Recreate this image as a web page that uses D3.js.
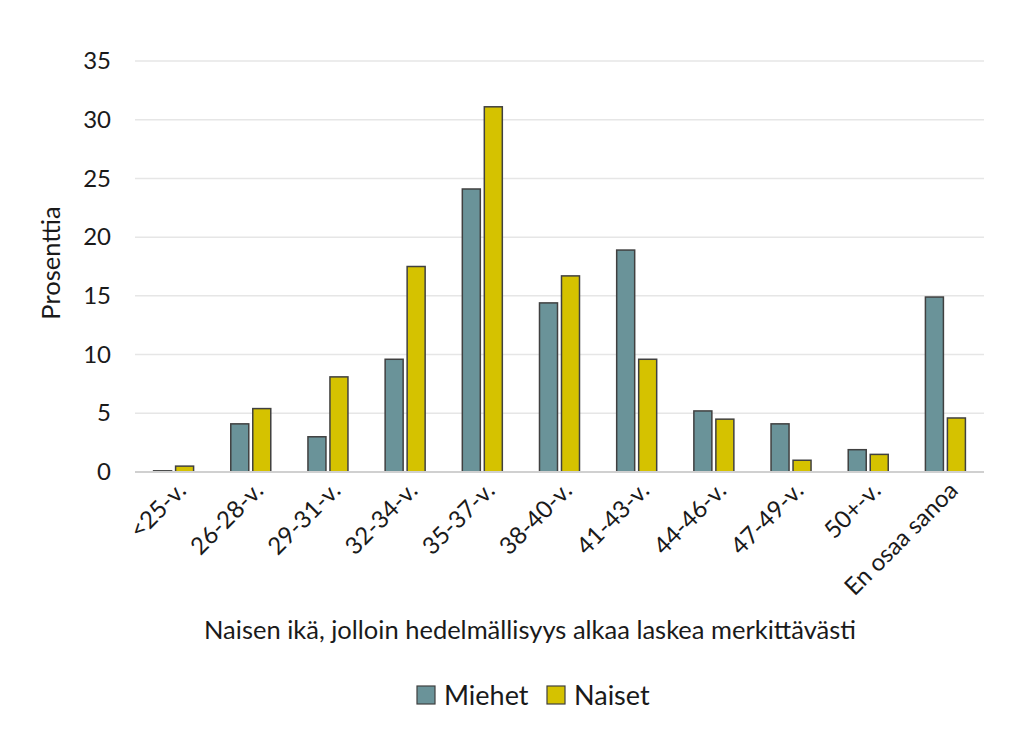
<!DOCTYPE html>
<html><head><meta charset="utf-8">
<script src="https://cdn.jsdelivr.net/npm/d3@7"></script>
<style>body{margin:0;background:#fff}svg{display:block}text{font-family:Lato,"Open Sans",sans-serif;fill:#1a1a1a}</style>
</head><body>
<svg id="c" width="1024" height="742"></svg>
<script>
const categories = ["<25-v.","26-28-v.","29-31-v.","32-34-v.","35-37-v.","38-40-v.","41-43-v.","44-46-v.","47-49-v.","50+-v.","En osaa sanoa"];
const seriesNames = ["Miehet","Naiset"];
const miehet = [0.1,4.1,3.0,9.6,24.1,14.4,18.9,5.2,4.1,1.9,14.9];
const naiset = [0.5,5.4,8.1,17.5,31.1,16.7,9.6,4.5,1.0,1.5,4.6];
const yTicks = [0,5,10,15,20,25,30,35];
const colors = ["#6a9399","#d5c200"];

const svg = d3.select("#c");
const L=135, R=984, T=61, B=472;
const x = d3.scaleBand().domain(categories).range([L,R]);
const y = d3.scaleLinear().domain([0,35]).range([B,T]);
const bw = 18, gap = 4;

// grid
svg.append("g").selectAll("line").data(yTicks.filter(d=>d>0)).join("line")
  .attr("x1",L).attr("x2",R).attr("y1",d=>y(d)).attr("y2",d=>y(d))
  .attr("stroke","#e6e6e6").attr("stroke-width",1.5);

// y axis labels
const ya = svg.append("g").attr("transform",`translate(${L},0)`).call(d3.axisLeft(y).tickValues(yTicks).tickSize(0).tickPadding(24));
ya.select(".domain").remove();
ya.selectAll("text").attr("font-size",24).style("font-family","Lato,'Open Sans',sans-serif").attr("fill","#1a1a1a");

// bars
const data = categories.map((c,i)=>({c, v:[miehet[i],naiset[i]]}));
const g = svg.append("g").selectAll("g").data(data).join("g")
  .attr("transform",d=>`translate(${x(d.c)+x.bandwidth()/2},0)`);
g.selectAll("rect").data(d=>d.v.map((v,j)=>({v,j}))).join("rect")
  .attr("x",d=>d.j===0? -gap/2-bw : gap/2)
  .attr("width",bw)
  .attr("y",d=>y(d.v)).attr("height",d=>B-y(d.v))
  .attr("fill",d=>colors[d.j]).attr("stroke","#404040").attr("stroke-width",1.5);

// x axis line
svg.append("line").attr("x1",L).attr("x2",R).attr("y1",B).attr("y2",B).attr("stroke","#d0d0d0").attr("stroke-width",2);

// x labels
const xa = svg.append("g").attr("transform",`translate(0,${B})`).call(d3.axisBottom(x).tickSize(0).tickPadding(0));
xa.select(".domain").remove();
xa.selectAll("text").attr("font-size",24).style("font-family","Lato,'Open Sans',sans-serif").attr("fill","#1a1a1a")
  .attr("text-anchor","end").attr("dy",0).attr("y",0)
  .attr("transform","translate(14,20) rotate(-45)");

// axis titles
svg.append("text").attr("x",530).attr("y",639).attr("text-anchor","middle").attr("font-size",25.5).text("Naisen ikä, jolloin hedelmällisyys alkaa laskea merkittävästi");
svg.append("text").attr("transform","translate(60,263) rotate(-90)").attr("text-anchor","middle").attr("font-size",25.5).text("Prosenttia");

// legend
const lg = svg.append("g").attr("transform","translate(0,695)");
const lx = [417, 547];
seriesNames.forEach((n,i)=>{
  lg.append("rect").attr("x",lx[i]).attr("y",-9).attr("width",18).attr("height",18).attr("fill",colors[i]).attr("stroke","#404040").attr("stroke-width",1.2);
  lg.append("text").attr("x",lx[i]+27).attr("y",10).attr("font-size",27).text(n);
});
</script>
</body></html>
